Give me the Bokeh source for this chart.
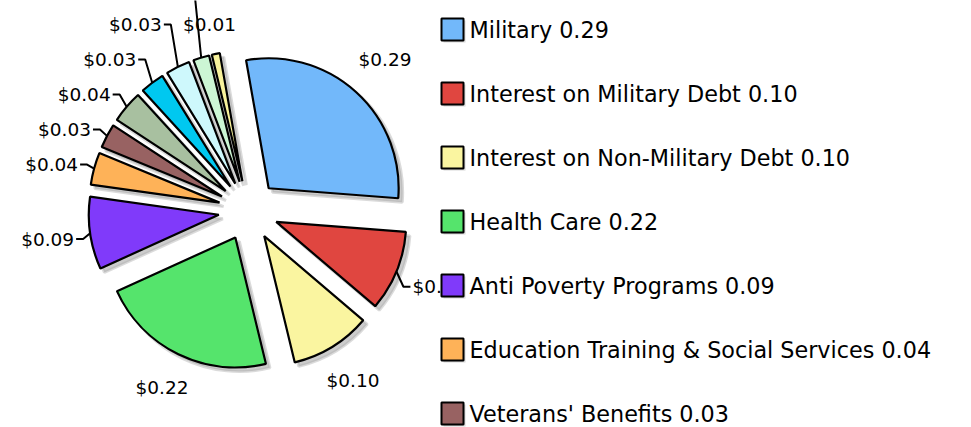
import math
from bokeh.plotting import figure
from bokeh.models import Range1d
from bokeh.core.properties import value
from bokeh.embed import file_html
from bokeh.resources import INLINE

# ---------------- data ----------------
categories = ["Military", "Interest on Military Debt", "Interest on Non-Military Debt",
              "Health Care", "Anti Poverty Programs", "Education Training & Social Services",
              "Veterans' Benefits", "Natural Resources & Environment", "Science, Space & Technology",
              "Transportation", "International Affairs", "Agriculture"]
values = [0.29, 0.10, 0.10, 0.22, 0.09, 0.04, 0.03, 0.04, 0.03, 0.03, 0.02, 0.01]
colors = ["#72b8fa", "#e04640", "#faf5a0", "#55e46c", "#803afa", "#feb258",
          "#986262", "#a8c0a0", "#00c8f0", "#cef8fc", "#ccf6d4", "#f8f29c"]
use_leader = [False, True, False, False, True, True, True, True, True, True, True, False]

# ---------------- layout ----------------
W, H = 971, 427
CX, CY = 248, 217
R = 130
EXPLODE = 30
START = -10.0          # degrees clockwise from 12 o'clock
FONT = value("DejaVu Sans")
LAB_W, LAB_H, GAP = 53, 16, 17

p = figure(width=W, height=H, output_backend="svg", toolbar_location=None,
           x_range=Range1d(0, W), y_range=Range1d(0, H), min_border=0)
p.axis.visible = False
p.grid.visible = False
p.outline_line_color = None
p.background_fill_color = "white"
p.border_fill_color = "white"

total = sum(values)
xs_c, ys_c, sa, ea, mids = [], [], [], [], []
acc = 0.0
for v in values:
    ts = START + 360.0 * acc / total
    te = ts + 360.0 * v / total
    acc += v
    tm = math.radians((ts + te) / 2)
    dx, dy = math.sin(tm), math.cos(tm)
    mids.append((dx, dy))
    xs_c.append(CX + EXPLODE * dx)
    ys_c.append(CY + EXPLODE * dy)
    sa.append(math.radians(90 - te))
    ea.append(math.radians(90 - ts))

# shadows
p.wedge(x=[x + 4 for x in xs_c], y=[y - 4 for y in ys_c], radius=R, start_angle=sa, end_angle=ea,
        direction="anticlock", fill_color="#b0b0b0", fill_alpha=0.65, line_color="#b0b0b0",
        line_alpha=0.45, line_width=3)
# slices
p.wedge(x=xs_c, y=ys_c, radius=R, start_angle=sa, end_angle=ea, direction="anticlock",
        fill_color=colors, line_color="black", line_width=2.2)

# ---------------- value labels ----------------
lab_txt = ["$%.2f" % v for v in values]
plain_x, plain_y, plain_t = [], [], []
lead = []
for i, v in enumerate(values):
    dx, dy = mids[i]
    ax, ay = xs_c[i] + R * dx, ys_c[i] + R * dy
    if not use_leader[i]:
        support = abs(dx) * LAB_W / 2 + abs(dy) * LAB_H / 2
        gap = GAP * (0.5 + 0.5 * abs(dx)) ** 0.5 + 4
        dist = R + gap + support
        plain_x.append(xs_c[i] + dist * dx)
        plain_y.append(ys_c[i] + dist * dy)
        plain_t.append(lab_txt[i])
    else:
        ynat = ay + 4 if dy >= 0 else ay + 40 * dy
        lead.append(dict(i=i, ax=ax, ay=ay, y=ynat, left=dx < 0))

left = sorted([d for d in lead if d["left"]], key=lambda d: d["y"])
prev = None
for d in left:
    if prev is not None and d["y"] < prev + 35:
        d["y"] = prev + 35
    prev = d["y"]

lx_l, ly_l, lt_l, lx_r, ly_r, lt_r, lxs, lys = [], [], [], [], [], [], [], []
for d in lead:
    if d["left"]:
        xl = d["ax"] - 16
        lx_l.append(xl); ly_l.append(d["y"]); lt_l.append(lab_txt[d["i"]])
        lxs.append([d["ax"], xl + 9, xl + 2]); lys.append([d["ay"], d["y"], d["y"]])
    else:
        xl = d["ax"] + 16
        lx_r.append(xl); ly_r.append(d["y"]); lt_r.append(lab_txt[d["i"]])
        lxs.append([d["ax"], xl - 9, xl - 2]); lys.append([d["ay"], d["y"], d["y"]])

p.multi_line(xs=lxs, ys=lys, line_color="black", line_width=2)
fs = value("18.5px")
p.text(x=plain_x, y=plain_y, text=plain_t, text_align="center", text_baseline="middle",
       text_font=FONT, text_font_size=fs, text_color="black")
p.text(x=lx_l, y=ly_l, text=lt_l, text_align="right", text_baseline="middle",
       text_font=FONT, text_font_size=fs, text_color="black")
p.text(x=lx_r, y=ly_r, text=lt_r, text_align="left", text_baseline="middle",
       text_font=FONT, text_font_size=fs, text_color="black")

# ---------------- legend ----------------
LEG_X, LEG_Y0, LEG_DY, SQ = 452, 398, 64, 22
leg_y = [LEG_Y0 - LEG_DY * i for i in range(len(categories))]
p.rect(x=[LEG_X + 2] * len(categories), y=[y - 2 for y in leg_y], width=SQ, height=SQ,
       fill_color="#b0b0b0", fill_alpha=0.5, line_color=None)
p.rect(x=[LEG_X] * len(categories), y=leg_y, width=SQ, height=SQ, fill_color=colors,
       line_color="black", line_width=2)
p.text(x=[LEG_X + 17] * len(categories), y=leg_y,
       text=["%s %.2f" % (c, v) for c, v in zip(categories, values)],
       text_align="left", text_baseline="middle", text_font=FONT,
       text_font_size=value("22.3px"), text_color="black")

open("out.html", "w").write(file_html(p, INLINE))
